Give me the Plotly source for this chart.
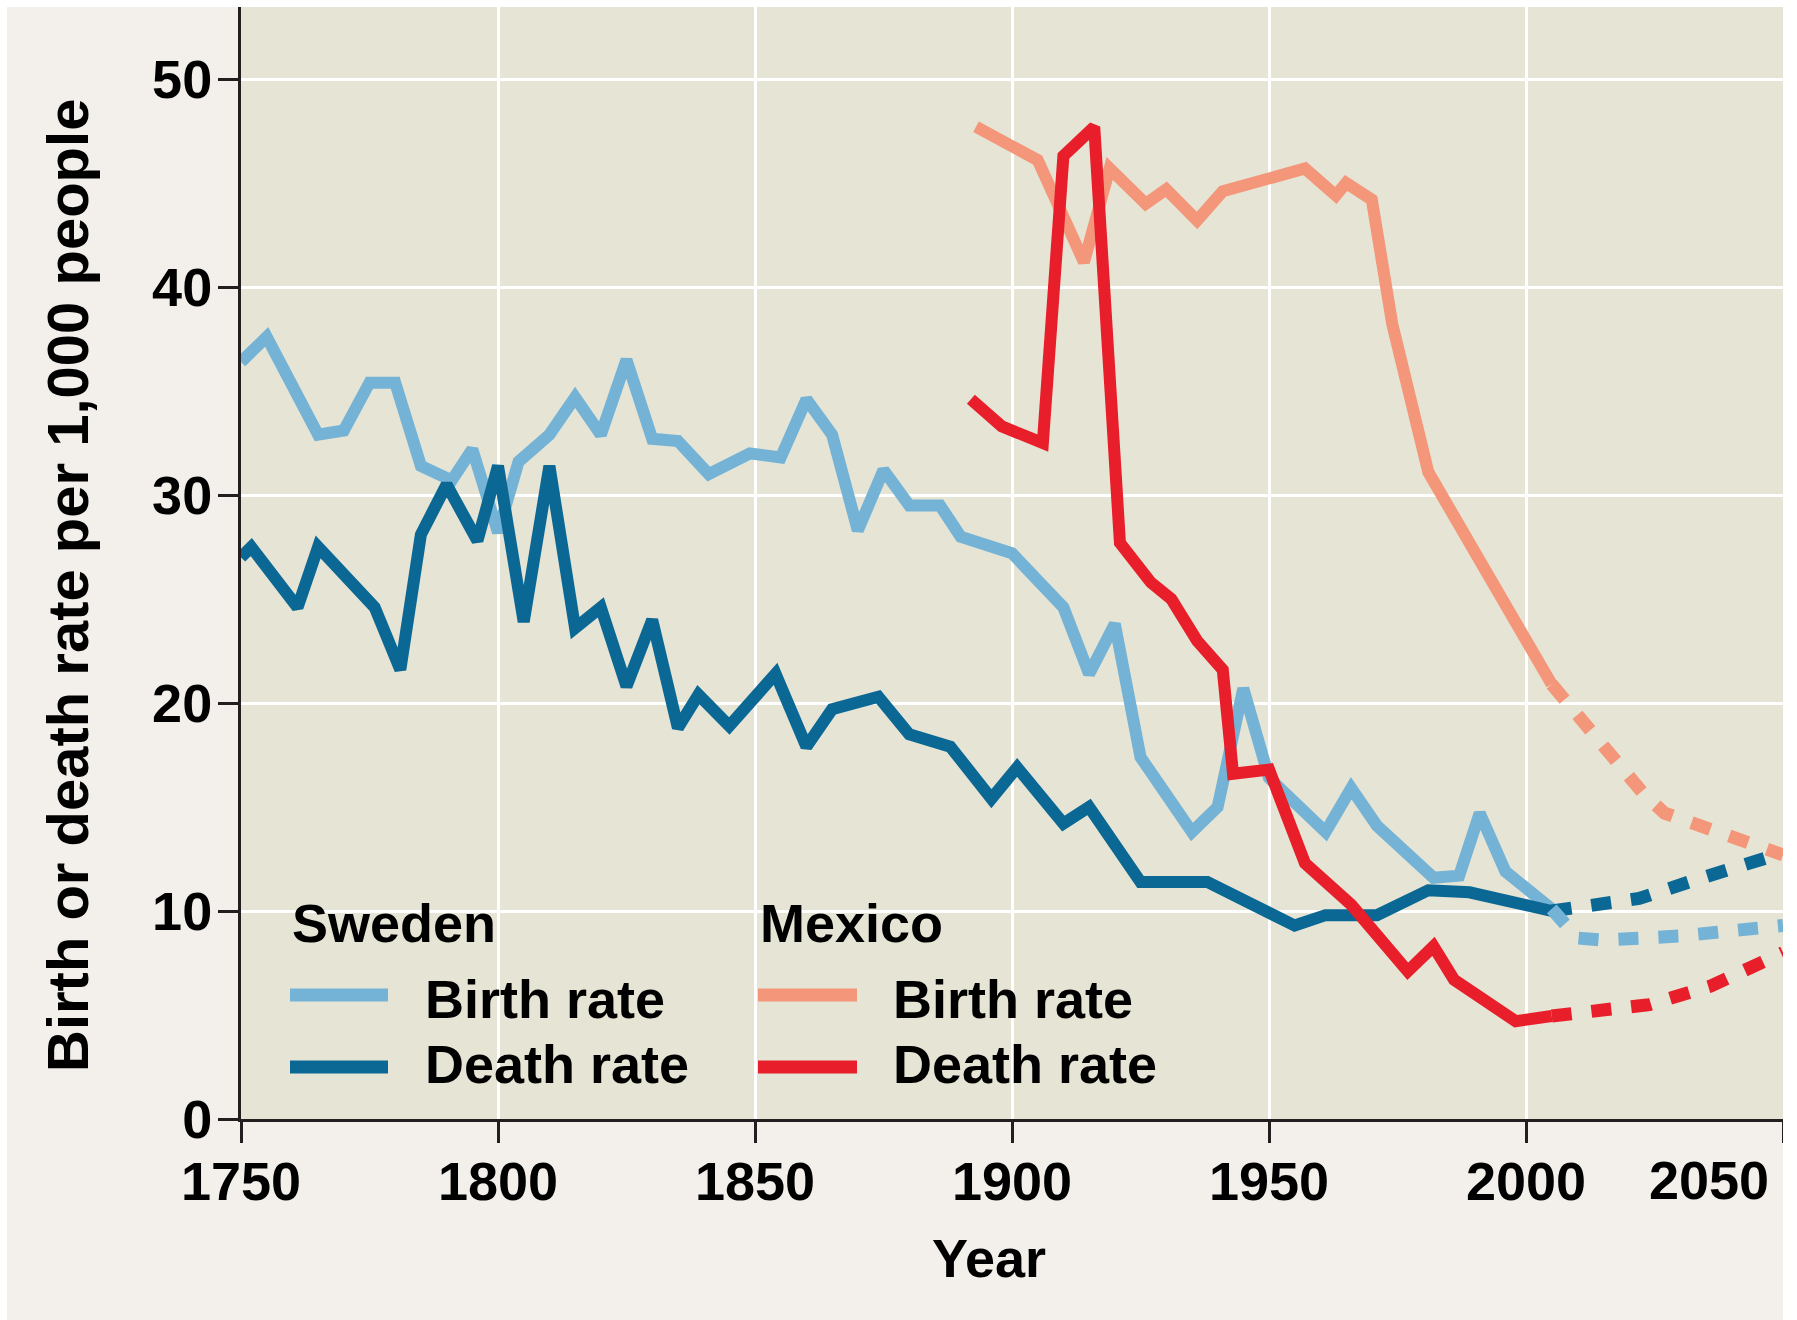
import plotly.graph_objects as go

# ---------------- data ----------------
swe_birth_years = [1750, 1755, 1765, 1770, 1775, 1780, 1785, 1791, 1795, 1800, 1804, 1810, 1815, 1820,
                   1825, 1830, 1835, 1841, 1849, 1855, 1860, 1865, 1870, 1875, 1880, 1886, 1890, 1900,
                   1905, 1910, 1915, 1920, 1925, 1935, 1940, 1945, 1950, 1961, 1966, 1971, 1982, 1987,
                   1991, 1996, 2005]
swe_birth_vals = [36.4, 37.6, 32.9, 33.1, 35.4, 35.4, 31.4, 30.7, 32.2, 28.2, 31.6, 32.9, 34.7, 32.9,
                  36.5, 32.7, 32.6, 31.0, 32.0, 31.8, 34.6, 32.9, 28.3, 31.2, 29.5, 29.5, 28.0, 27.2,
                  25.9, 24.6, 21.4, 23.8, 17.4, 13.8, 15.0, 20.7, 16.4, 13.8, 15.9, 14.1, 11.6, 11.7,
                  14.7, 11.9, 10.1]
swe_birth_proj_years = [2005, 2010, 2015, 2030, 2050]
swe_birth_proj_vals = [10.1, 8.7, 8.6, 8.8, 9.3]

swe_death_years = [1750, 1752, 1761, 1765, 1776, 1781, 1785, 1790, 1796, 1800, 1805, 1810, 1815, 1820,
                   1825, 1830, 1835, 1839, 1845, 1854, 1860, 1865, 1874, 1880, 1888, 1896, 1901, 1910,
                   1915, 1925, 1938, 1955, 1961, 1971, 1981, 1989, 2005]
swe_death_vals = [27.0, 27.5, 24.6, 27.5, 24.6, 21.6, 28.1, 30.5, 27.8, 31.4, 23.9, 31.4, 23.6, 24.6,
                  20.8, 24.0, 18.8, 20.4, 18.9, 21.4, 17.9, 19.7, 20.3, 18.5, 17.9, 15.4, 16.9, 14.2,
                  15.0, 11.4, 11.4, 9.3, 9.8, 9.8, 11.0, 10.9, 10.0]
swe_death_proj_years = [2005, 2010, 2022, 2033, 2050]
swe_death_proj_vals = [10.0, 10.2, 10.6, 11.5, 12.8]

mex_birth_years = [1893, 1905, 1914, 1919, 1926, 1930, 1936, 1941, 1957, 1963, 1965, 1970, 1974,
                   1981, 2005]
mex_birth_vals = [47.7, 46.1, 41.2, 45.7, 44.0, 44.7, 43.2, 44.6, 45.7, 44.4, 45.0, 44.2, 38.2,
                  31.1, 20.9]
mex_birth_proj_years = [2005, 2023, 2027, 2050]
mex_birth_proj_vals = [20.9, 15.6, 14.7, 12.7]

mex_death_years = [1892, 1898, 1906, 1910, 1916, 1921, 1927, 1931, 1936, 1941, 1943, 1950, 1957,
                   1966, 1977, 1982, 1986, 1998, 2005]
mex_death_vals = [34.6, 33.3, 32.5, 46.3, 47.7, 27.7, 25.8, 25.0, 23.0, 21.6, 16.6, 16.8, 12.3,
                  10.3, 7.1, 8.3, 6.7, 4.7, 4.95]
mex_death_proj_years = [2005, 2024, 2036, 2050]
mex_death_proj_vals = [4.95, 5.5, 6.4, 8.0]

x_ticks = [1750, 1800, 1850, 1900, 1950, 2000, 2050]
x_tick_labels = ["1750", "1800", "1850", "1900", "1950", "2000", ""]
y_ticks = [0, 10, 20, 30, 40, 50]

legend_groups = ["Sweden", "Mexico"]
legend_items = ["Birth rate", "Death rate"]

# ---------------- styles ----------------
C_SWE_BIRTH = "#74B3D6"
C_SWE_DEATH = "#0B6895"
C_MEX_BIRTH = "#F3967A"
C_MEX_DEATH = "#E81E2A"
PLOT_BG = "#E6E4D4"
PAPER_BG = "#F3F0EB"
FONT = "Liberation Sans, Arial, Helvetica, sans-serif"
W_SOLID = 12
W_DASH = 13
DASH = "20px,20px"

W_FIG, H_FIG = 1797, 1320
L, R, T, B = 241, 1783, 7, 1119
PW, PH = R - L, B - T


def px2x(px):
    return (px - L) / PW


def py2y(py):
    return (B - py) / PH


fig = go.Figure()


def add_series(xs, ys, color, width, dash=None):
    fig.add_trace(go.Scatter(
        x=xs, y=ys, mode="lines",
        line=dict(color=color, width=width, dash=dash) if dash else dict(color=color, width=width),
        showlegend=False, hoverinfo="x+y"))


add_series(swe_birth_years, swe_birth_vals, C_SWE_BIRTH, W_SOLID)
add_series(swe_death_years, swe_death_vals, C_SWE_DEATH, W_SOLID)
add_series(mex_birth_years, mex_birth_vals, C_MEX_BIRTH, W_SOLID)
add_series(mex_death_years, mex_death_vals, C_MEX_DEATH, W_SOLID)
add_series(mex_birth_proj_years, mex_birth_proj_vals, C_MEX_BIRTH, W_DASH, DASH)
add_series(swe_death_proj_years, swe_death_proj_vals, C_SWE_DEATH, W_DASH, DASH)
add_series(swe_birth_proj_years, swe_birth_proj_vals, C_SWE_BIRTH, W_DASH, DASH)
add_series(mex_death_proj_years, mex_death_proj_vals, C_MEX_DEATH, W_DASH, DASH)

tick_font = dict(family=FONT, size=54, color="black", weight="bold")

fig.update_layout(
    width=W_FIG, height=H_FIG,
    margin=dict(l=L, r=W_FIG - R, t=T, b=H_FIG - B, pad=0),
    paper_bgcolor=PAPER_BG, plot_bgcolor=PLOT_BG,
    showlegend=False,
    xaxis=dict(range=[1750, 2050], tickmode="array", tickvals=x_ticks, ticktext=x_tick_labels,
               showgrid=True, gridcolor="white", gridwidth=3,
               showline=True, linecolor="#231F20", linewidth=3,
               ticks="outside", ticklen=21, tickwidth=3, tickcolor="#231F20",
               tickfont=tick_font, zeroline=False, ticklabelstandoff=-8),
    yaxis=dict(range=[0, (B - T) / 20.8], tickmode="array", tickvals=y_ticks,
               showgrid=True, gridcolor="white", gridwidth=3,
               showline=True, linecolor="#231F20", linewidth=3,
               ticks="outside", ticklen=20, tickwidth=3, tickcolor="#231F20",
               tickfont=tick_font, zeroline=False, ticklabelstandoff=-5),
)

annotations = []
# axis titles
annotations.append(dict(text="Birth or death rate per 1,000 people", xref="paper", yref="paper",
                        x=px2x(67), y=py2y(586), textangle=-90, showarrow=False,
                        xanchor="center", yanchor="middle",
                        font=dict(family=FONT, size=58, color="black", weight="bold")))
annotations.append(dict(text="Year", xref="paper", yref="paper", x=px2x(989), y=py2y(1258),
                        showarrow=False, xanchor="center", yanchor="middle",
                        font=dict(family=FONT, size=54, color="black", weight="bold")))
# shifted 2050 tick label
annotations.append(dict(text="2050", xref="x", yref="paper", x=2050, y=py2y(1180),
                        xshift=-12, showarrow=False, xanchor="right", yanchor="middle",
                        font=tick_font))

# legend (drawn manually)
leg_font = dict(family=FONT, size=54, color="black", weight="bold")
leg_cols = [(290, 388, 423, [C_SWE_BIRTH, C_SWE_DEATH]), (758, 857, 891, [C_MEX_BIRTH, C_MEX_DEATH])]
row_text_y = [999, 1064]
row_line_y = [995, 1067]
shapes = []
for g, (lx0, lx1, tx, cols) in zip(legend_groups, leg_cols):
    annotations.append(dict(text=g, xref="paper", yref="paper", x=px2x(lx0), y=py2y(923),
                            showarrow=False, xanchor="left", yanchor="middle", font=leg_font))
    for item, c, yt, yl in zip(legend_items, cols, row_text_y, row_line_y):
        annotations.append(dict(text=item, xref="paper", yref="paper", x=px2x(tx), y=py2y(yt),
                                showarrow=False, xanchor="left", yanchor="middle", font=leg_font))
        shapes.append(dict(type="line", xref="paper", yref="paper", x0=px2x(lx0), x1=px2x(lx1),
                           y0=py2y(yl), y1=py2y(yl), line=dict(color=c, width=13), layer="above"))

# thin white frame (top, left, right)
shapes.append(dict(type="rect", xref="paper", yref="paper", x0=px2x(0), x1=px2x(W_FIG),
                   y0=py2y(T), y1=py2y(0), fillcolor="white", line=dict(width=0), layer="above"))
shapes.append(dict(type="rect", xref="paper", yref="paper", x0=px2x(0), x1=px2x(7),
                   y0=py2y(H_FIG), y1=py2y(0), fillcolor="white", line=dict(width=0), layer="above"))
shapes.append(dict(type="rect", xref="paper", yref="paper", x0=px2x(R), x1=px2x(W_FIG),
                   y0=py2y(H_FIG), y1=py2y(0), fillcolor="white", line=dict(width=0), layer="above"))

fig.update_layout(annotations=annotations, shapes=shapes)

fig.write_html("out.html", config={"displayModeBar": False},
               post_script="document.body.style.margin='0';")
